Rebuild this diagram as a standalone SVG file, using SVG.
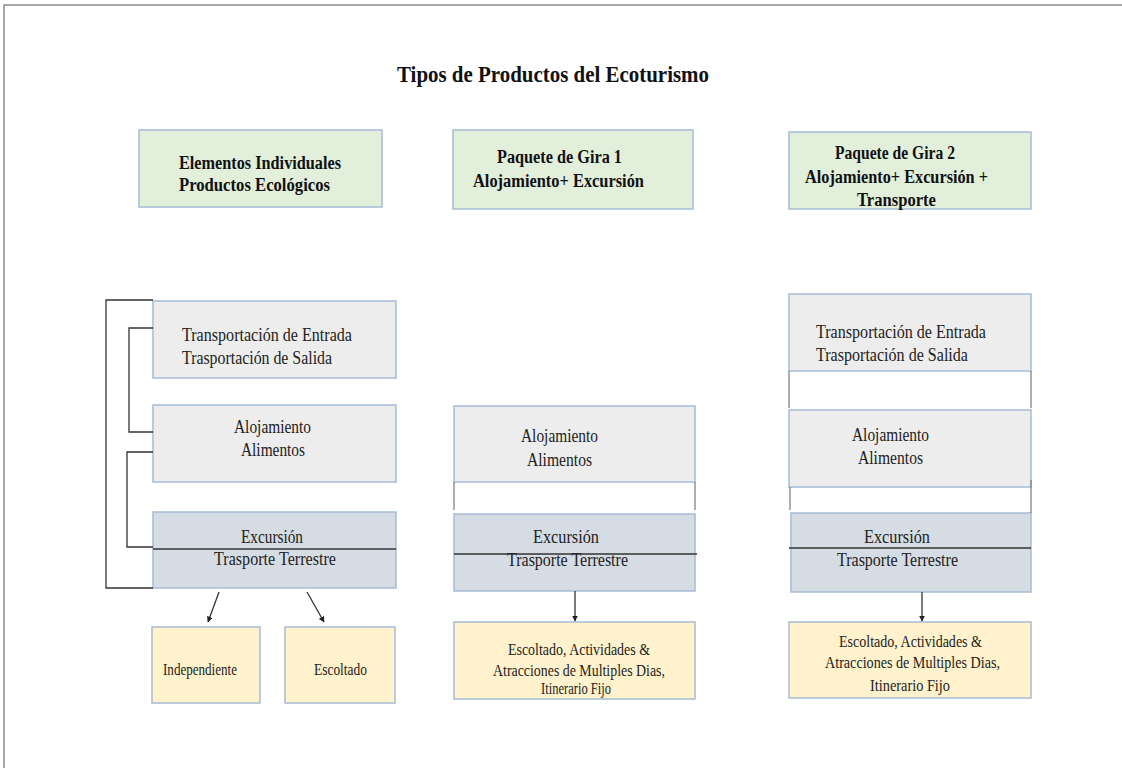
<svg xmlns="http://www.w3.org/2000/svg" width="1122" height="768" viewBox="0 0 1122 768">
<defs>
<style>
.t{font-family:"Liberation Serif","Times New Roman",serif;font-size:18px;fill:#222}
.b{font-weight:bold;fill:#111;font-size:18px}
.s{font-size:17px}
.green{fill:#E2EFDA;stroke:#A7BCD6;stroke-width:1.5}
.grey{fill:#EDEDED;stroke:#A7BCD6;stroke-width:1.5}
.blue{fill:#D6DCE4;stroke:#A7BCD6;stroke-width:1.5}
.yel{fill:#FFF2CC;stroke:#A7BCD6;stroke-width:1.5}
.ln{fill:none;stroke:#333;stroke-width:1.3}
.gl{fill:none;stroke:#777;stroke-width:1.2}
</style>
<marker id="ah" viewBox="0 0 10 10" refX="9" refY="5" markerWidth="6" markerHeight="6" orient="auto" markerUnits="userSpaceOnUse">
<path d="M0,0 L10,5 L0,10 z" fill="#222"/>
</marker>
</defs>
<rect width="1122" height="768" fill="#fff"/>
<path d="M4,768 V5 H1122" fill="none" stroke="#8a8a8a" stroke-width="1.5"/>
<text class="t b" x="553" y="82" style="font-size:23px" text-anchor="middle" textLength="312" lengthAdjust="spacingAndGlyphs">Tipos de Productos del Ecoturismo</text>

<g id="g1">
<rect class="green" x="139" y="130" width="243" height="77"/>
<text class="t b" x="179" y="169" textLength="162" lengthAdjust="spacingAndGlyphs">Elementos Individuales</text>
<text class="t b" x="179" y="191" textLength="151" lengthAdjust="spacingAndGlyphs">Productos Ecológicos</text>
</g>
<g id="g2">
<rect class="green" x="453" y="130" width="240" height="79"/>
<text class="t b" x="559.5" y="163" text-anchor="middle" textLength="125" lengthAdjust="spacingAndGlyphs">Paquete de Gira 1</text>
<text class="t b" x="558.5" y="187" text-anchor="middle" textLength="171" lengthAdjust="spacingAndGlyphs">Alojamiento+ Excursión</text>
</g>
<g id="g3">
<rect class="green" x="789" y="132" width="242" height="77"/>
<text class="t b" x="895" y="159" text-anchor="middle" textLength="120" lengthAdjust="spacingAndGlyphs">Paquete de Gira 2</text>
<text class="t b" x="896.5" y="183" text-anchor="middle" textLength="183" lengthAdjust="spacingAndGlyphs">Alojamiento+ Excursión +</text>
<text class="t b" x="896.5" y="206" text-anchor="middle" textLength="79" lengthAdjust="spacingAndGlyphs">Transporte</text>
</g>

<g id="l_trans">
<rect class="grey" x="153" y="301" width="243" height="77"/>
<text class="t" x="182" y="341" textLength="170" lengthAdjust="spacingAndGlyphs">Transportación de Entrada</text>
<text class="t" x="182" y="364" textLength="150" lengthAdjust="spacingAndGlyphs">Trasportación de Salida</text>
</g>
<g id="l_aloj">
<rect class="grey" x="153" y="405" width="243" height="77"/>
<text class="t" x="272.5" y="433" text-anchor="middle" textLength="77" lengthAdjust="spacingAndGlyphs">Alojamiento</text>
<text class="t" x="273" y="456" text-anchor="middle" textLength="64" lengthAdjust="spacingAndGlyphs">Alimentos</text>
</g>
<g id="l_exc">
<rect class="blue" x="153" y="512" width="243" height="76"/>
<line class="ln" x1="153" y1="549" x2="396" y2="549"/>
<text class="t" x="272" y="543" text-anchor="middle" textLength="62" lengthAdjust="spacingAndGlyphs">Excursión</text>
<text class="t" x="275" y="565" text-anchor="middle" textLength="122" lengthAdjust="spacingAndGlyphs">Trasporte Terrestre</text>
</g>
<g id="l_ind">
<rect class="yel" x="152" y="627" width="108" height="76"/>
<text class="t s" x="200" y="675" text-anchor="middle" textLength="74" lengthAdjust="spacingAndGlyphs">Independiente</text>
</g>
<g id="l_esc">
<rect class="yel" x="285" y="627" width="110" height="76"/>
<text class="t s" x="340.5" y="675" text-anchor="middle" textLength="53" lengthAdjust="spacingAndGlyphs">Escoltado</text>
</g>

<g id="m_aloj">
<rect class="grey" x="454" y="406" width="241" height="76"/>
<text class="t" x="559.5" y="442" text-anchor="middle" textLength="77" lengthAdjust="spacingAndGlyphs">Alojamiento</text>
<text class="t" x="559.5" y="466" text-anchor="middle" textLength="65" lengthAdjust="spacingAndGlyphs">Alimentos</text>
</g>
<g id="m_exc">
<rect class="blue" x="454" y="514" width="241" height="77"/>
<line class="ln" x1="454" y1="554" x2="697" y2="554"/>
<text class="t" x="566" y="543" text-anchor="middle" textLength="66" lengthAdjust="spacingAndGlyphs">Excursión</text>
<text class="t" x="567.5" y="566" text-anchor="middle" textLength="121" lengthAdjust="spacingAndGlyphs">Trasporte Terrestre</text>
</g>
<g id="m_yel">
<rect class="yel" x="454" y="622" width="241" height="77"/>
<text class="t s" x="579" y="655" text-anchor="middle" textLength="142" lengthAdjust="spacingAndGlyphs">Escoltado, Actividades  &amp;</text>
<text class="t s" x="579" y="676" text-anchor="middle" textLength="172" lengthAdjust="spacingAndGlyphs">Atracciones  de Multiples  Dias,</text>
<text class="t s" x="576" y="694" text-anchor="middle" textLength="70" lengthAdjust="spacingAndGlyphs">Itinerario  Fijo</text>
</g>

<g id="r_trans">
<rect class="grey" x="789" y="294" width="242" height="77"/>
<text class="t" x="816" y="338" textLength="170" lengthAdjust="spacingAndGlyphs">Transportación de Entrada</text>
<text class="t" x="816" y="361" textLength="152" lengthAdjust="spacingAndGlyphs">Trasportación de Salida</text>
</g>
<g id="r_aloj">
<rect class="grey" x="789" y="410" width="242" height="77"/>
<text class="t" x="890.5" y="441" text-anchor="middle" textLength="77" lengthAdjust="spacingAndGlyphs">Alojamiento</text>
<text class="t" x="890.5" y="464" text-anchor="middle" textLength="65" lengthAdjust="spacingAndGlyphs">Alimentos</text>
</g>
<g id="r_exc">
<rect class="blue" x="791" y="513" width="240" height="79"/>
<line class="ln" x1="789" y1="548" x2="1031" y2="548"/>
<text class="t" x="897" y="543" text-anchor="middle" textLength="66" lengthAdjust="spacingAndGlyphs">Excursión</text>
<text class="t" x="897.5" y="566" text-anchor="middle" textLength="121" lengthAdjust="spacingAndGlyphs">Trasporte Terrestre</text>
</g>
<g id="r_yel">
<rect class="yel" x="789" y="622" width="242" height="76"/>
<text class="t s" x="910.5" y="647" text-anchor="middle" textLength="143" lengthAdjust="spacingAndGlyphs">Escoltado, Actividades  &amp;</text>
<text class="t s" x="912.5" y="668" text-anchor="middle" textLength="175" lengthAdjust="spacingAndGlyphs">Atracciones  de Multiples  Dias,</text>
<text class="t s" x="910" y="691" text-anchor="middle" textLength="80" lengthAdjust="spacingAndGlyphs">Itinerario  Fijo</text>
</g>

<g id="connectors">
<path class="ln" d="M153,300 H106 V588 H153"/>
<path class="ln" d="M153,328 H129 V432 H153"/>
<path class="ln" d="M153,452 H127 V547 H153"/>
<path class="gl" d="M454,482 V510 M695,482 V510"/>
<path class="gl" d="M789,371 V408 M1031,371 V408"/>
<path class="gl" d="M790,487 V510 M1031,480 V513"/>
<line class="ln" x1="219" y1="592" x2="208" y2="622" marker-end="url(#ah)"/>
<line class="ln" x1="307" y1="592" x2="324" y2="622" marker-end="url(#ah)"/>
<line class="ln" x1="575" y1="591" x2="575" y2="621" marker-end="url(#ah)"/>
<line class="ln" x1="922" y1="592" x2="922" y2="621" marker-end="url(#ah)"/>
</g>
</svg>
